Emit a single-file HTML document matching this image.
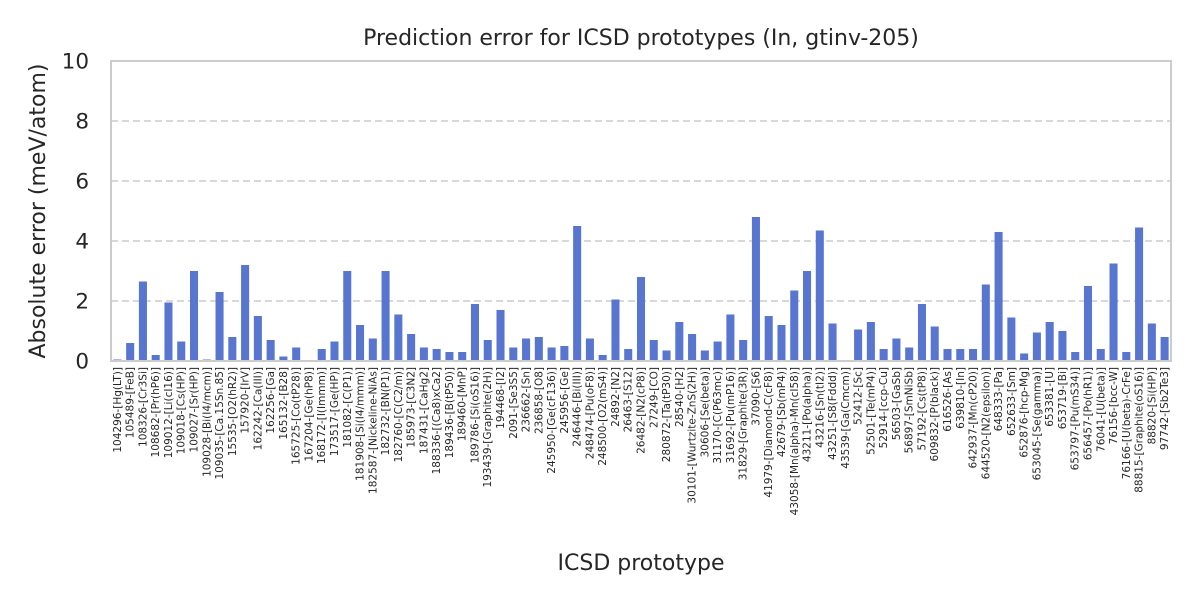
<!DOCTYPE html>
<html><head><meta charset="utf-8"><style>
html,body{margin:0;padding:0;background:#fff;}
svg{display:block;font-family:"DejaVu Sans","Liberation Sans",sans-serif;}
</style></head><body>
<svg id="chart" width="1200" height="600"></svg>
<script>
const categories=["104296-[Hg(LT)]","105489-[FeB]","108326-[Cr3Si]","108682-[Pr(hP6)]","109012-[Li(cI16)]","109018-[Cs(HP)]","109027-[Sr(HP)]","109028-[Bi(I4/mcm)]","109035-[Ca.15Sn.85]","15535-[O2(hR2)]","157920-[IrV]","162242-[Ca(III)]","162256-[Ga]","165132-[B28]","165725-[Co(tP28)]","167204-[Ge(hP8)]","168172-[I(Immm)]","173517-[Ge(HP)]","181082-[C(P1)]","181908-[Si(I4/mmm)]","182587-[Nickeline-NiAs]","182732-[BN(P1)]","182760-[C(C2/m)]","185973-[C3N2]","187431-[CaHg2]","188336-[(Ca8)xCa2]","189436-[B(tP50)]","189460-[MnP]","189786-[Si(oS16)]","193439-[Graphite(2H)]","194468-[I2]","2091-[Se3S5]","236662-[Sn]","236858-[O8]","245950-[Ge(cF136)]","245956-[Ge]","246446-[Bi(III)]","248474-[Pu(oF8)]","248500-[O2(mS4)]","24892-[N2]","26463-[S12]","26482-[N2(cP8)]","27249-[CO]","280872-[Ta(tP30)]","28540-[H2]","30101-[Wurtzite-ZnS(2H)]","30606-[Se(beta)]","31170-[C(P63mc)]","31692-[Pu(mP16)]","31829-[Graphite(3R)]","37090-[S6]","41979-[Diamond-C(cF8)]","42679-[Sb(mP4)]","43058-[Mn(alpha)-Mn(cI58)]","43211-[Po(alpha)]","43216-[Sn(tI2)]","43251-[S8(Fddd)]","43539-[Ga(Cmcm)]","52412-[Sc]","52501-[Te(mP4)]","52914-[ccp-Cu]","56503-[GaSb]","56897-[SmNiSb]","57192-[Cs(tP8)]","609832-[P(black)]","616526-[As]","639810-[In]","642937-[Mn(cP20)]","644520-[N2(epsilon)]","648333-[Pa]","652633-[Sm]","652876-[hcp-Mg]","653045-[Se(gamma)]","653381-[U]","653719-[Bi]","653797-[Pu(mS34)]","656457-[Po(hR1)]","76041-[U(beta)]","76156-[bcc-W]","76166-[U(beta)-CrFe]","88815-[Graphite(oS16)]","88820-[Si(HP)]","97742-[Sb2Te3]"];
const errors=[0.05,0.6,2.65,0.2,1.95,0.65,3.0,0.05,2.3,0.8,3.2,1.5,0.7,0.15,0.45,0,0.4,0.65,3.0,1.2,0.75,3.0,1.55,0.9,0.45,0.4,0.3,0.3,1.9,0.7,1.7,0.45,0.75,0.8,0.45,0.5,4.5,0.75,0.2,2.05,0.4,2.8,0.7,0.35,1.3,0.9,0.35,0.65,1.55,0.7,4.8,1.5,1.2,2.35,3.0,4.35,1.25,0,1.05,1.3,0.4,0.75,0.45,1.9,1.15,0.4,0.4,0.4,2.55,4.3,1.45,0.25,0.95,1.3,1.0,0.3,2.5,0.4,3.25,0.3,4.45,1.25,0.8];
const yTicks=[0,2,4,6,8,10];
const NS="http://www.w3.org/2000/svg";
const svg=document.getElementById('chart');
const L=111,R=1171,T=61,B=361,yMax=10;
const band=(R-L)/categories.length;
function xScale(i){return L+band*(i+0.5);}
function yScale(v){return B-(v/yMax)*(B-T);}
function mk(tag,attrs,parent){const e=document.createElementNS(NS,tag);for(const k in attrs)e.setAttribute(k,attrs[k]);(parent||svg).appendChild(e);return e;}
yTicks.forEach(t=>{
  if(t>0&&t<yMax){const g=mk('line',{x1:L,x2:R,y1:yScale(t),y2:yScale(t),stroke:'#cccccc','stroke-width':1.6,'stroke-dasharray':'7,4'});
  
  }
  const tx=mk('text',{x:L-22,y:yScale(t)+7.5,'text-anchor':'end','font-size':21.5,fill:'#262626'});
  tx.textContent=t;
  
  
});
const bw=band*0.63;
errors.forEach((v,i)=>{
  const r=mk('rect',{x:xScale(i)-bw/2,y:yScale(v),width:bw,height:B-yScale(v),fill:'#5876d0'});
  
  
  const lx=xScale(i)+3.5;
  const t=mk('text',{x:lx,y:367,'text-anchor':'end','font-size':10.5,fill:'#262626',transform:'rotate(-90 '+lx+' 367)'});
  t.textContent=categories[i];
  
  
});
const f=mk('rect',{x:L,y:T,width:R-L,height:B-T,fill:'none',stroke:'#cccccc','stroke-width':2});


const title=mk('text',{x:641,y:45,'text-anchor':'middle','font-size':22,fill:'#262626'});
title.textContent='Prediction error for ICSD prototypes (In, gtinv-205)';


const yl=mk('text',{x:45,y:211,'text-anchor':'middle','font-size':22,fill:'#262626',transform:'rotate(-90 45 211)'});
yl.textContent='Absolute error (meV/atom)';


const xl=mk('text',{x:641,y:570,'text-anchor':'middle','font-size':22,fill:'#262626'});
xl.textContent='ICSD prototype';


</script>
</body></html>
